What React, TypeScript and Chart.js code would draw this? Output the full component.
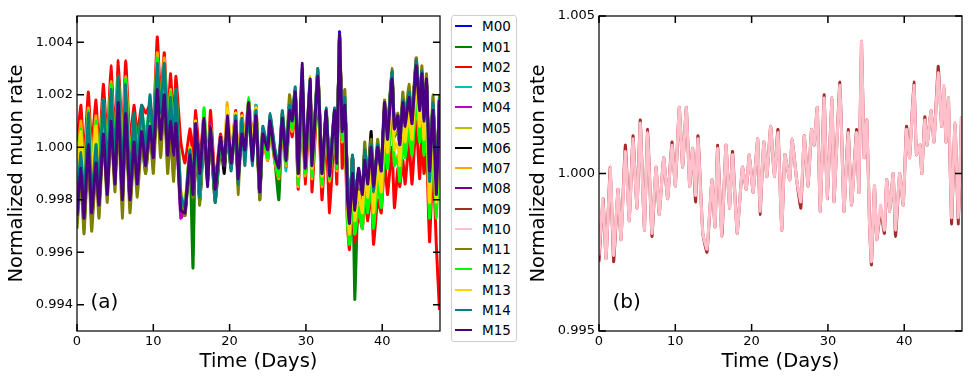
import React, { useEffect, useRef } from 'react';
import { Chart, registerables } from 'chart.js';
Chart.register(...registerables);

// Time axis (days) shared by all modules
const TIME = [0,0.52,0.92,1.48,1.92,2.49,2.88,3.45,3.97,4.45,
4.98,5.41,5.94,6.38,6.94,7.47,7.9,8.47,9.0,9.56,
10.0,10.52,10.96,11.44,11.88,12.27,12.66,12.97,13.6,14.15,
14.8,15.2,15.55,16.1,16.64,17.1,17.5,18.1,18.8,19.3,
19.7,20.2,20.8,21.1,21.6,22.0,22.5,22.97,23.45,23.95,
24.35,25.0,25.3,25.9,26.45,26.9,27.4,27.85,28.2,28.6,
29.0,29.5,29.9,30.55,30.8,31.57,32.1,32.65,33.1,33.75,
34.05,34.4,34.75,35.1,35.45,35.7,36.1,36.4,36.9,37.4,
37.7,38.1,38.55,38.86,39.4,39.87,40.3,40.7,41.27,41.6,
42.05,42.3,42.7,43.0,43.5,43.9,44.45,44.9,45.2,45.47,
45.8,46.2,46.65,47.1,47.5];

// Deviations from 1 in units of 1e-4 (normalized rate = 1 + dev*1e-4)
const M00 = [-26,-8,-27,2,-26,-5,-21,7,-15,11,
-11,16,-18,13,-21,2,-13,5,-8,9,
-4,21,2,21,-4,8,-7,11,-19,-24,
-2,-17,8,-20,9,-11,6,-19,2,-5,
6,-6,11,-12,10,-1,15,-1,14,-18,
6,-2,11,-2,-9,12,-4,17,9,21,
-12,24,-8,24,-9,28,-12,13,-10,13,
-6,44,5,17,-16,-28,-4,-21,-10,-18,
-2,-12,0,-18,0,-10,14,5,28,6,
9,0,17,9,20,10,32,15,28,10,
24,-14,16,-14,18];
const M01 = [-28,-10,-31,0,-28,-7,-23,5,-17,9,
-13,14,-20,11,-21,0,-15,3,-10,7,
-6,19,0,19,-6,6,-9,9,-21,-26,
-4,-46,6,-22,7,-13,4,-21,0,-7,
4,-8,9,-14,8,-3,13,-3,11,-20,
4,-4,9,-4,-20,10,-6,12,7,19,
-14,22,-10,22,-11,26,-14,11,-12,11,
-8,40,3,15,-18,-30,-6,-58,-12,-20,
-4,-14,-2,-20,-2,-12,12,3,26,4,
7,-2,15,7,18,8,30,13,26,8,
22,-16,14,-16,16];
const M02 = [2,16,-5,21,0,18,-3,24,2,31,
3,33,2,33,2,16,5,16,13,16,
8,42,18,36,10,28,7,27,2,-6,
7,-3,14,-5,12,-8,14,-14,5,-2,
9,-3,14,-9,13,2,18,2,16,-15,
3,-5,8,-5,-12,9,-8,10,4,16,
-16,20,-14,18,-17,22,-20,6,-25,8,
-14,38,-8,5,-30,-39,-20,-36,-25,-31,
-18,-28,-15,-37,-20,-25,-5,-18,0,-23,
-8,-15,-5,-14,2,-14,10,-12,5,-10,
0,-36,-5,-38,-62];
const M03 = [-26,-8,-27,2,-26,-5,-21,7,-15,11,
-11,19,-18,13,-19,2,-13,5,-8,9,
-4,24,2,21,-4,8,-7,11,-19,-24,
-2,-17,8,-20,14,-11,6,-19,2,-5,
6,-6,11,-12,10,2,15,-1,16,-18,
6,-2,11,-2,-9,12,-9,14,9,21,
-14,24,-8,24,-9,28,-12,13,-10,13,
-6,42,5,17,-16,-28,-4,-21,-10,-18,
-2,-12,0,-18,0,-10,14,5,28,6,
9,0,17,9,20,10,32,15,28,10,
24,-14,16,-14,18];
const M04 = [-26,-8,-27,2,-26,-5,-21,7,-15,11,
-11,16,-18,13,-19,2,-13,5,-8,9,
-4,30,2,21,-4,8,-7,11,-27,-24,
-2,-17,8,-20,9,-11,9,-19,2,-5,
8,-6,11,-12,10,-1,15,-1,13,-18,
6,-2,11,-2,-9,12,-4,14,9,21,
-12,24,-8,24,-9,28,-12,13,-10,13,
-6,42,5,17,-16,-28,-4,-21,-10,-18,
-2,-12,0,-18,0,-10,14,3,28,6,
9,0,17,9,20,10,32,15,28,10,
24,-14,16,-14,18];
const M05 = [-25,-6,-26,4,-25,-3,-20,9,-14,13,
-10,18,-17,15,-18,4,-12,7,-7,11,
-3,23,3,23,-3,10,-12,13,-18,-23,
-1,-16,9,-19,10,-10,7,-18,3,-4,
7,-5,12,-11,11,0,16,0,14,-17,
7,-1,12,-1,-8,13,-3,15,10,22,
-11,25,-7,25,-8,29,-11,14,-9,14,
-5,43,6,18,-17,-29,-5,-22,-11,-19,
-3,-13,-1,-19,-1,-11,13,4,27,5,
8,-1,16,8,19,9,31,14,27,9,
23,-15,15,-15,17];
const M06 = [-26,-8,-27,2,-26,-5,-21,7,-15,11,
-11,16,-18,13,-19,2,-13,5,-8,9,
-4,21,2,21,-4,8,-7,11,-19,-24,
-2,-17,8,-20,9,-11,6,-19,2,-10,
6,-6,11,-12,12,-1,15,-1,13,-18,
6,-2,11,-2,-9,12,-4,14,9,21,
-12,24,-8,24,-9,30,-12,13,-10,13,
-6,42,5,17,-16,-28,-4,-21,-10,-18,
-2,-12,6,-18,0,-10,14,5,28,6,
9,0,17,9,20,10,32,15,28,10,
24,-14,16,-14,18];
const M07 = [-8,10,-11,15,-6,12,-9,18,-4,25,
-3,27,-4,27,-4,10,-1,10,7,10,
2,36,12,34,4,22,1,21,-17,-22,
0,-15,10,-18,11,-9,8,-17,4,-3,
17,-4,13,-10,12,1,17,1,15,-16,
3,-5,8,-5,-12,9,-7,11,6,18,
-15,21,-11,21,-12,25,-15,10,-13,10,
-9,40,2,14,-28,-36,-16,-33,-22,-30,
-14,-24,-12,-30,-12,-22,2,-7,16,-6,
-3,-12,5,-3,8,-2,20,3,16,-2,
12,-26,4,-26,6];
const M08 = [-26,-8,-27,2,-26,-5,-21,7,-15,11,
-11,16,-20,13,-19,2,-13,5,-8,9,
-4,21,2,21,-4,8,-7,11,-19,-24,
-2,-17,8,-20,9,-11,6,-19,2,-5,
6,-6,11,-12,10,-1,15,-1,13,-18,
6,-2,11,-2,-9,12,-4,14,9,21,
-12,24,-8,24,-9,28,-12,13,-10,13,
-8,42,5,17,-16,-28,-4,-21,-10,-18,
-2,-12,0,-18,0,-10,14,5,28,6,
9,0,17,9,20,10,32,15,28,10,
24,-14,16,-14,18];
const M09 = [-28,-8,-27,2,-28,-5,-21,9,-15,12,
-11,17,-18,14,-20,2,-13,5,-8,10,
-4,21,2,21,-4,8,-9,12,-19,-25,
-2,-17,9,-20,9,-11,7,-19,2,-5,
6,-6,11,-13,10,-1,15,-1,14,-18,
6,-2,11,-2,-11,12,-4,14,9,21,
-12,25,-8,24,-9,29,-12,14,-10,14,
-6,42,5,17,-16,-29,-4,-21,-12,-19,
-2,-12,0,-20,0,-10,15,5,29,6,
9,0,18,9,20,10,34,15,27,10,
24,-16,16,-16,18];
const M10 = [-26,-8,-27,2,-26,-5,-21,7,-15,11,
-11,16,-18,13,-19,2,-13,5,-8,9,
-4,21,2,21,-4,8,-7,11,-19,-24,
-2,-17,8,-20,9,-11,6,-19,2,-5,
6,-6,11,-12,10,-1,15,-1,13,-18,
6,-2,11,-2,-9,12,-4,14,9,21,
-12,24,-8,24,-9,28,-12,13,-10,13,
-6,42,5,17,-16,-28,-4,-21,-10,-18,
-2,-12,0,-18,0,-10,14,5,28,6,
9,0,17,9,20,10,32,15,28,10,
24,-14,16,-14,18];
const M11 = [-31,-11,-33,-1,-32,-8,-27,4,-21,8,
-17,13,-27,10,-25,-1,-19,2,-10,6,
-10,18,-4,18,-10,5,-13,8,-21,-26,
-4,-19,6,-22,7,-13,4,-21,0,-7,
4,-8,9,-18,8,-3,13,-3,11,-20,
7,-1,12,-1,-8,13,-3,20,12,22,
-11,25,-7,25,-8,27,-11,14,-9,14,
-5,42,12,22,-15,-27,-3,-20,-9,-17,
2,-11,3,-17,3,-9,18,7,30,8,
13,2,21,11,24,12,34,17,31,12,
28,-13,20,-13,20];
const M12 = [-11,7,-13,14,-10,10,-9,18,-4,24,
-1,27,-5,26,-6,12,-1,13,5,15,
5,34,13,31,6,21,3,22,-18,-23,
-1,-16,9,-19,15,-10,7,-18,3,-4,
7,-5,12,-11,11,0,19,0,14,-17,
4,-4,9,-4,-11,10,-6,12,7,19,
-14,22,-10,22,-11,26,-14,11,-12,11,
-8,40,3,15,-29,-37,-16,-33,-23,-31,
-15,-25,-13,-31,-13,-23,0,-8,15,-7,
-4,-13,4,-4,7,-3,19,2,15,-3,
11,-27,3,-27,5];
const M13 = [-12,6,-15,11,-10,8,-13,14,-8,21,
-7,23,-8,23,-8,6,-5,6,3,6,
-2,32,8,26,0,18,-3,17,-17,-22,
0,-15,10,-18,11,-9,8,-17,4,-3,
15,-4,13,-10,12,1,17,1,15,-16,
7,-1,12,-1,-8,13,-3,15,10,22,
-11,27,-7,27,-8,30,-11,14,-9,14,
-5,42,6,18,-23,-33,-11,-28,-17,-25,
-9,-19,-7,-25,-7,-17,7,-2,21,-1,
2,-7,10,2,13,3,25,8,21,3,
17,-21,9,-21,11];
const M14 = [-20,-2,-21,13,-20,1,-15,18,-9,22,
-5,27,-12,24,-13,13,-7,16,-2,20,
2,32,13,32,2,19,-1,22,-18,-23,
-1,-16,9,-19,10,-10,7,-21,3,-4,
7,-9,12,-14,11,-7,16,-7,14,-17,
8,0,13,0,-7,14,-2,16,11,23,
-10,30,-6,26,-7,30,-10,15,-8,15,
-4,42,7,19,-15,-27,-3,-20,-9,-17,
-1,-11,1,-17,1,-9,15,6,29,7,
10,1,18,10,21,11,33,16,29,11,
25,-13,17,-13,19];
const M15 = [-26,-8,-27,1,-25,-6,-22,5,-18,10,
-14,17,-20,13,-20,2,-14,6,-7,8,
-4,22,3,20,-3,10,-3,9,-24,-25,
-3,-18,9,-10,11,-15,8,-16,4,-7,
12,-6,10,-12,5,-1,17,-5,12,-17,
5,-1,10,-3,-8,11,-5,14,10,21,
-10,32,-8,26,-7,27,-10,14,-11,14,
-6,43,6,16,-20,-29,-10,-24,-8,-18,
-5,-14,0,-15,0,-9,17,3,26,7,
12,1,17,8,19,9,31,14,28,10,
26,-9,14,-18,18];

const SERIES_NAMES = ['M00','M01','M02','M03','M04','M05','M06','M07','M08','M09','M10','M11','M12','M13','M14','M15'];
const SERIES_DEV = [M00,M01,M02,M03,M04,M05,M06,M07,M08,M09,M10,M11,M12,M13,M14,M15];
const SERIES_COLORS = ['#0000ff','#008000','#ff0000','#00bfbf','#bf00bf','#bfbf00','#000000','#ffa500','#800080','#a52a2a','#ffc0cb','#808000','#00ff00','#ffd700','#008080','#4b0082'];
const PANEL_B_SERIES = [9, 10];

const X_TICKS = [0, 10, 20, 30, 40];
const Y_TICKS_A = [0.994, 0.996, 0.998, 1.0, 1.002, 1.004];
const Y_TICKS_B = [0.995, 1.0, 1.005];
const X_MAX = 47.57;

const FONT = "'DejaVu Sans', 'Liberation Sans', sans-serif";

function toPoints(dev: number[]) {
  return TIME.map((t, i) => ({ x: t, y: 1 + dev[i] * 1e-4 }));
}

function framePlugin(label: string, yTicks: number[]) {
  return {
    id: 'frame' + label,
    afterDatasetsDraw(chart: any) {
      const { ctx, chartArea: a, scales } = chart;
      ctx.save();
      ctx.strokeStyle = '#111';
      ctx.lineWidth = 1.3;
      ctx.strokeRect(a.left, a.top, a.right - a.left, a.bottom - a.top);
      ctx.lineWidth = 1.5;
      ctx.strokeStyle = '#000';
      const TL = 7;
      ctx.beginPath();
      X_TICKS.forEach((v) => {
        const px = scales.x.getPixelForValue(v);
        ctx.moveTo(px, a.bottom); ctx.lineTo(px, a.bottom - TL);
        ctx.moveTo(px, a.top); ctx.lineTo(px, a.top + TL);
      });
      yTicks.forEach((v) => {
        const py = scales.y.getPixelForValue(v);
        ctx.moveTo(a.left, py); ctx.lineTo(a.left + TL, py);
        ctx.moveTo(a.right, py); ctx.lineTo(a.right - TL, py);
      });
      ctx.stroke();
      ctx.fillStyle = '#000';
      ctx.font = `20px ${FONT}`;
      ctx.textBaseline = 'middle';
      ctx.textAlign = 'left';
      ctx.fillText(label, a.left + 13.5, a.bottom - 28);
      ctx.restore();
    },
  };
}

function makeConfig(indices: number[], yMin: number, yMax: number, yTicks: number[], label: string): any {
  const datasets = indices.map((idx, k) => ({
    label: SERIES_NAMES[idx],
    data: toPoints(SERIES_DEV[idx]),
    borderColor: SERIES_COLORS[idx],
    backgroundColor: SERIES_COLORS[idx],
    borderWidth: 3,
    pointRadius: 0,
    fill: false,
    tension: 0.12,
    borderJoinStyle: 'round',
    order: indices.length - 1 - k,
  }));
  return {
    type: 'line',
    data: { datasets },
    options: {
      responsive: false,
      animation: false,
      events: [],
      layout: { padding: { top: 16, right: 10, left: 0, bottom: 0 } },
      plugins: { legend: { display: false }, tooltip: { enabled: false } },
      scales: {
        x: {
          type: 'linear',
          min: 0,
          max: X_MAX,
          grid: { display: false, drawTicks: false },
          border: { display: false },
          afterBuildTicks: (s: any) => { s.ticks = X_TICKS.map((v) => ({ value: v })); },
          afterFit: (s: any) => { s.height = 52; },
          ticks: {
            padding: 3, color: '#000', autoSkip: false, maxRotation: 0,
            font: { family: FONT, size: 13 },
            callback: (v: any) => String(v),
          },
          title: {
            display: true, text: 'Time (Days)', color: '#000',
            font: { family: FONT, size: 19.5 },
            padding: { top: 0, bottom: 9.6 },
          },
        },
        y: {
          type: 'linear',
          min: yMin,
          max: yMax,
          grid: { display: false, drawTicks: false },
          border: { display: false },
          afterBuildTicks: (s: any) => { s.ticks = yTicks.map((v) => ({ value: v })); },
          afterFit: (s: any) => { s.width = 77; },
          ticks: {
            padding: 4, color: '#000', autoSkip: false,
            font: { family: FONT, size: 13 },
            callback: (v: any) => Number(v).toFixed(3),
          },
          title: {
            display: true, text: 'Normalized muon rate', color: '#000',
            font: { family: FONT, size: 19.5 },
            padding: { top: 5.3, bottom: 0 },
          },
        },
      },
    },
    plugins: [framePlugin(label, yTicks)],
  };
}

function Panel({ indices, yMin, yMax, yTicks, label, left }: any) {
  const ref = useRef<HTMLCanvasElement | null>(null);
  useEffect(() => {
    if (!ref.current) return;
    const chart = new Chart(ref.current, makeConfig(indices, yMin, yMax, yTicks, label));
    return () => chart.destroy();
  }, []);
  return (
    <canvas
      ref={ref}
      width={450}
      height={383}
      style={{ position: 'absolute', left, top: 0, width: 450, height: 383 }}
    />
  );
}

function Legend() {
  return (
    <div
      style={{
        position: 'absolute', left: 451, top: 15, width: 66, height: 327,
        boxSizing: 'border-box', border: '1px solid #cfcfcf', borderRadius: 3,
        background: '#fff', fontFamily: FONT, fontSize: 13.5, color: '#000',
      }}
    >
      {SERIES_NAMES.map((name, i) => (
        <div key={name} style={{ position: 'absolute', left: 0, top: 0.3 + i * 20.25, height: 20, width: 64 }}>
          <div style={{ position: 'absolute', left: 3, top: 9, width: 17, height: 2, background: SERIES_COLORS[i] }} />
          <div style={{ position: 'absolute', left: 30, top: 0, lineHeight: '20px', whiteSpace: 'nowrap' }}>{name}</div>
        </div>
      ))}
    </div>
  );
}

export default function App() {
  const all = SERIES_NAMES.map((_, i) => i);
  return (
    <div style={{ position: 'absolute', left: 0, top: 0, width: 972, height: 383, background: '#fff', overflow: 'hidden' }}>
      <Panel indices={all} yMin={0.993} yMax={1.005} yTicks={Y_TICKS_A} label="(a)" left={0} />
      <Panel indices={PANEL_B_SERIES} yMin={0.995} yMax={1.005} yTicks={Y_TICKS_B} label="(b)" left={522} />
      <Legend />
    </div>
  );
}
